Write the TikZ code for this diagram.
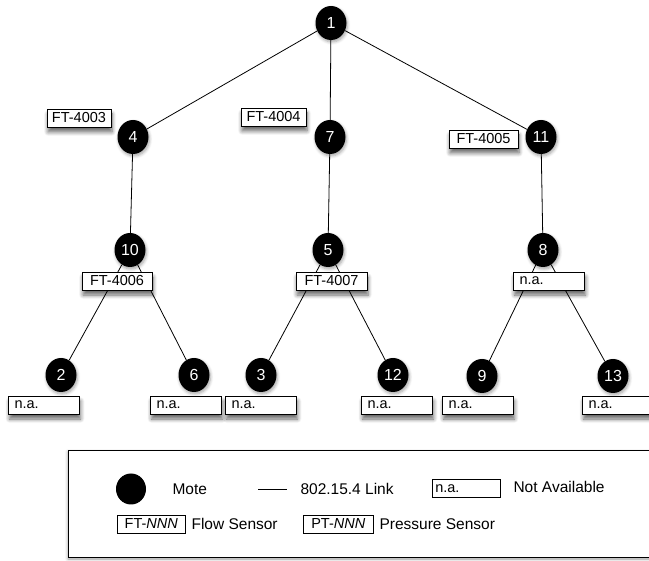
\documentclass[tikz,border=0pt]{standalone}
\usepackage{fontspec}
\setmainfont{Liberation Sans}
\usetikzlibrary{shapes.geometric,shadows,shadows.blur}
\begin{document}
\begin{tikzpicture}[x=1pt,y=-1pt,
  txt/.style={font=\fontsize{14.5}{16}\selectfont},
  ltxt/.style={font=\fontsize{15.5}{17}\selectfont},
  mote/.style={ellipse, fill=black, text=white, minimum width=31, minimum height=34, inner sep=0, font=\fontsize{16}{16}\selectfont,
    blur shadow={shadow xshift=1pt, shadow yshift=-2pt, shadow blur steps=5, shadow blur radius=3pt, shadow opacity=35}},
  sens/.style={draw=black, fill=white, line width=0.8pt, minimum height=18, minimum width=#1, inner sep=0, txt,
    blur shadow={shadow xshift=1pt, shadow yshift=-5pt, shadow blur steps=6, shadow blur radius=4pt, shadow opacity=60}},
  sens/.default=66,
  na/.style={draw=black, fill=white, line width=0.8pt, minimum height=18, text width=59, inner xsep=6, inner ysep=0, align=left, txt,
    blur shadow={shadow xshift=1pt, shadow yshift=-5pt, shadow blur steps=6, shadow blur radius=4pt, shadow opacity=60}},
  legbox/.style={draw=black, fill=white, line width=0.6pt, minimum height=18, minimum width=#1, inner sep=0, txt},
  link/.style={draw=black, line width=0.8pt}
]
\useasboundingbox (0,0) rectangle (649,561);

% motes
\node[mote] (n1) at (331,23) {1};
\node[mote] (n4) at (133,137) {4};
\node[mote] (n7) at (330,137) {7};
\node[mote] (n11) at (541,137) {11};
\node[mote] (n10) at (130,250) {10};
\node[mote] (n5) at (328,250) {5};
\node[mote] (n8) at (543,250) {8};
\node[mote] (n2) at (61,375) {2};
\node[mote] (n6) at (194,375) {6};
\node[mote] (n3) at (261,375) {3};
\node[mote] (n12) at (393,375) {12};
\node[mote] (n9) at (482,376) {9};
\node[mote] (n13) at (613,376) {13};

% links
\draw[link] (n1) -- (n4);
\draw[link] (n1) -- (n7);
\draw[link] (n1) -- (n11);
\draw[link] (n4) -- (n10);
\draw[link] (n7) -- (n5);
\draw[link] (n11) -- (n8);
\draw[link] (n10) -- (n2);
\draw[link] (n10) -- (n6);
\draw[link] (n5) -- (n3);
\draw[link] (n5) -- (n12);
\draw[link] (n8) -- (n9);
\draw[link] (n8) -- (n13);

% sensor labels
\node[sens=64] (s4003) at (79,118) {FT-4003};
\node[sens=65] (s4004) at (273.5,117) {FT-4004};
\node[sens=69] (s4005) at (483.5,139) {FT-4005};
\node[sens=70] (s4006) at (117,281) {FT-4006};
\node[sens=71] (s4007) at (331.5,281) {FT-4007};
\node[na] (na8) at (549,281) {n.a.};
\node[na] (na2) at (44,405) {n.a.};
\node[na] (na6) at (186,405) {n.a.};
\node[na] (na3) at (261,405) {n.a.};
\node[na] (na12) at (397,405) {n.a.};
\node[na] (na9) at (478,405) {n.a.};
\node[na] (na13) at (618,405) {n.a.};

% legend
\draw[line width=0.8pt, fill=white, blur shadow={shadow xshift=0pt, shadow yshift=-2pt, shadow blur steps=5, shadow blur radius=3pt, shadow opacity=40}] (68,450) rectangle (664,557);
\node[ellipse, fill=black, minimum width=30, minimum height=31, inner sep=0] (lmote) at (131,489) {};
\node[ltxt, anchor=west] (tmote) at (169,489) {Mote};
\coordinate (la) at (258,489);
\coordinate (lb) at (287,489);
\draw[link] (la) -- (lb);
\node[ltxt, anchor=west] (tlink) at (297,489) {802.15.4 Link};
\node[legbox=68, anchor=west, align=left, text width=62, inner xsep=3] (lna) at (432,488.5) {n.a.};
\node[ltxt, anchor=west] (tna) at (510,487) {Not Available};
\node[legbox=68, anchor=west] (lft) at (117,524) {FT-\textit{NNN}};
\node[ltxt, anchor=west] (tft) at (188,524) {Flow Sensor};
\node[legbox=70, anchor=west] (lpt) at (303,524) {PT-\textit{NNN}};
\node[ltxt, anchor=west] (tpt) at (376,524) {Pressure Sensor};
\end{tikzpicture}
\end{document}
